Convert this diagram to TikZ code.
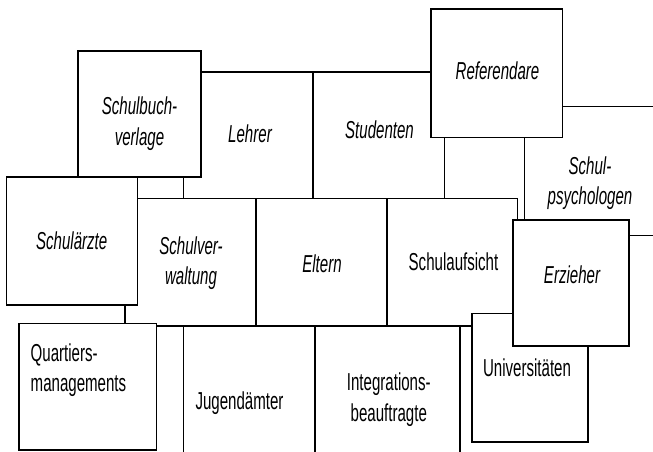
\documentclass[tikz,border=0pt]{standalone}
\usepackage{fontspec}
\newfontfamily\nf[FakeStretch=0.615]{Liberation Sans}
\newcommand\fsz[1]{\fontsize{24.5}{#1}\selectfont}
\newcommand\sq{\rule[-12pt]{0pt}{24pt}}
\begin{document}
\begin{tikzpicture}[x=1pt,y=-1pt,
  ln/.style={line width=1.3pt,black},
  box/.style={draw=black,line width=1.3pt,fill=white,inner sep=0pt,outer sep=0pt},
  up/.style={inner sep=0pt,outer sep=0pt,align=center,font=\nf\fsz{29.5}},
  it/.style={inner sep=0pt,outer sep=0pt,align=center,font=\nf\itshape\fsz{29.5}}]
\useasboundingbox (0,0) rectangle (653,452);
% box nodes
\path
 (139.5,114) node[box,minimum width=123pt,minimum height=126pt] (sbv) {}
 (496.8,73.3) node[box,minimum width=131.5pt,minimum height=128.7pt] (ref) {}
 (72.2,241) node[box,minimum width=131pt,minimum height=128pt] (sae) {}
 (87.85,386.7) node[box,minimum width=137.7pt,minimum height=126.7pt] (qm) {};
% level coordinates
\coordinate (yA) at (0,72);
\coordinate (yB) at (0,198.3);
\coordinate (yC) at (0,326);
\coordinate (yD) at (0,106.7);
\coordinate (yE) at (0,235.7);
\coordinate (yF) at (0,452);
\coordinate (x1) at (183.3,0);
\coordinate (x2) at (517.7,0);
\coordinate (x3) at (444.3,0);
\coordinate (x4) at (524.3,0);
\coordinate (x5) at (256,0);
\coordinate (x6) at (387,0);
\coordinate (x7) at (125,0);
\coordinate (x8) at (315,0);
\coordinate (x9) at (460,0);
\coordinate (xL) at (313,0);
\coordinate (xR) at (653,0);
\coordinate (erzTL) at (513,220);
\coordinate (uniTL) at (472,313.3);
% separator lines
\draw[ln] (sbv.east |- yA) -- (ref.west |- yA);
\draw[ln] (xL |- yA) -- (xL |- yB);
\draw[ln] (x1 |- sbv.south) -- (x1 |- yB);
\draw[ln] (sae.east |- yB) -- (x2 |- yB) -- (x2 |- erzTL);
\draw[ln] (x3 |- ref.south) -- (x3 |- yB);
\draw[ln] (x4 |- ref.south) -- (x4 |- erzTL);
\draw[ln] (ref.east |- yD) -- (xR |- yD);
\draw[ln] (x5 |- yB) -- (x5 |- yC);
\draw[ln] (x6 |- yB) -- (x6 |- yC);
\draw[ln] (qm.east |- yC) -- (uniTL |- yC);
\draw[ln] (x7 |- sae.south) -- (x7 |- qm.north);
\draw[ln] (x1 |- yC) -- (x1 |- yF);
\draw[ln] (x8 |- yC) -- (x8 |- yF);
\draw[ln] (x9 |- yC) -- (x9 |- yF);
% overlapping boxes
\node[box,minimum width=116pt,minimum height=128.7pt] (uni) at (530,377.7) {};
\node[box,minimum width=116pt,minimum height=126pt] (erz) at (571,283) {};
\draw[ln] (erz.east |- yE) -- (xR |- yE);
% texts
\node[it,font=\nf\itshape\fsz{29}] (t-sbv) at (139.5,127.2) {\sq Schulbuch-\\\sq verlage};
\node[it] (t-leh) at (250,139.3) {\sq Lehrer};
\node[it] (t-stu) at (379.5,136) {\sq Studenten};
\node[it] (t-ref) at (497.5,77) {\sq Referendare};
\node[it,font=\nf\itshape\fsz{30}] (t-psy) at (590,186.7) {\sq Schul-\\\sq psychologen};
\node[it] (t-sae) at (71.7,246.7) {\sq Schulärzte};
\node[it,font=\nf\itshape\fsz{30}] (t-sv) at (191,266.7) {\sq Schulver-\\\sq waltung};
\node[it] (t-elt) at (322,270) {\sq Eltern};
\node[up] (t-sa) at (453.5,267.7) {\sq Schulaufsicht};
\node[it] (t-erz) at (572,281) {\sq Erzieher};
\node[up,align=left,anchor=west,font=\nf\fsz{30}] (t-qm) at (30.7,373.3) {\sq Quartiers-\\\sq managements};
\node[up] (t-jug) at (239.5,406.7) {\sq Jugendämter};
\node[up] (t-uni) at (527,373.3) {\sq Universitäten};
\node[up,font=\nf\fsz{25.7}] (t-int) at (388.8,402.8) {\sq Integrations-\\\sq beauftragte};
\end{tikzpicture}
\end{document}
